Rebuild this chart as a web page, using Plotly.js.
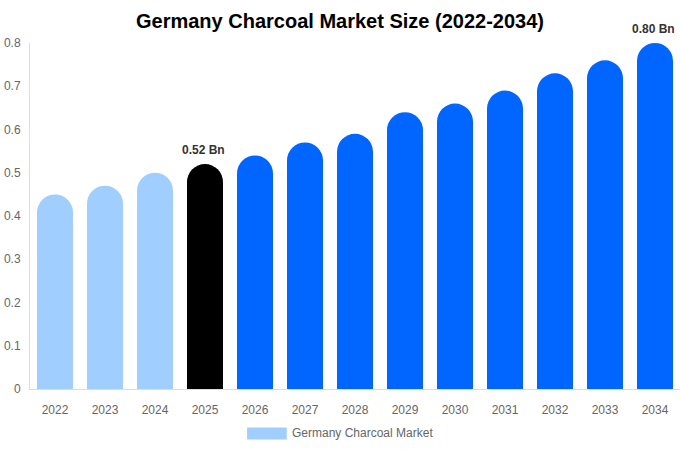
<!DOCTYPE html>
<html>
<head>
<meta charset="utf-8">
<script src="https://cdn.plot.ly/plotly-3.0.1.min.js"></script>
<style>
  html, body { margin: 0; padding: 0; background: #fff; }
  #chart { width: 680px; height: 450px; }
</style>
</head>
<body>
<div id="chart"></div>
<script>
var years = ['2022', '2023', '2024', '2025', '2026', '2027', '2028', '2029', '2030', '2031', '2032', '2033', '2034'];
var marketSize = [0.45, 0.47, 0.50, 0.52, 0.54, 0.57, 0.59, 0.64, 0.66, 0.69, 0.73, 0.76, 0.80];
var barColors = ['#a0cefe', '#a0cefe', '#a0cefe', '#000000', '#0066ff', '#0066ff', '#0066ff',
  '#0066ff', '#0066ff', '#0066ff', '#0066ff', '#0066ff', '#0066ff'];
var labelledYears = ['2025', '2034'];
var seriesName = 'Germany Charcoal Market';
var titleText = 'Germany Charcoal Market Size (2022-2034)';

var fontFamily = 'Liberation Sans, Arial, sans-serif';

var trace = {
  type: 'bar',
  x: years,
  y: marketSize,
  name: seriesName,
  marker: {
    color: barColors,
    cornerradius: '50%',
    line: { width: 0 }
  },
  hoverinfo: 'x+y',
  showlegend: false
};

// on a category axis the annotation x is the category's serial number
var annotations = labelledYears.map(function (yr) {
  var i = years.indexOf(yr);
  var v = marketSize[i];
  return {
    x: i,
    y: v,
    xref: 'x',
    yref: 'y',
    xshift: -2,
    text: '<b>' + v.toFixed(2) + ' Bn</b>',
    showarrow: false,
    yanchor: 'bottom',
    yshift: 5,
    font: { family: fontFamily, size: 12, color: '#333333' }
  };
});

// legend drawn by hand so the swatch is wide like the reference
annotations.push({
  xref: 'paper',
  yref: 'paper',
  x: 0.4,
  y: -0.128,
  xanchor: 'left',
  yanchor: 'middle',
  text: seriesName,
  showarrow: false,
  font: { family: fontFamily, size: 12, color: '#666666' }
});

var layout = {
  width: 680,
  height: 450,
  margin: { l: 30, r: 0, t: 43, b: 61, pad: 0 },
  paper_bgcolor: '#ffffff',
  plot_bgcolor: '#ffffff',
  font: { family: fontFamily, size: 12, color: '#666666' },
  title: {
    text: '<b>' + titleText + '</b>',
    x: 0.5,
    xanchor: 'center',
    y: 0.953,
    yanchor: 'middle',
    font: { family: fontFamily, size: 20, color: '#000000' }
  },
  bargap: 0.28,
  xaxis: {
    type: 'category',
    range: [-0.5, years.length - 0.5],
    showline: true,
    linecolor: '#dddddd',
    linewidth: 1,
    showgrid: false,
    ticks: '',
    ticklabelstandoff: 10,
    tickfont: { family: fontFamily, size: 12, color: '#666666' }
  },
  yaxis: {
    range: [0, 0.8],
    dtick: 0.1,
    tickformat: '.1~f',
    showline: true,
    linecolor: '#dddddd',
    linewidth: 1,
    showgrid: false,
    zeroline: false,
    ticks: '',
    ticklabelstandoff: 6,
    tickfont: { family: fontFamily, size: 12, color: '#666666' }
  },
  shapes: [{
    type: 'rect',
    xref: 'paper',
    yref: 'paper',
    x0: 0.334,
    x1: 0.395,
    y0: -0.146,
    y1: -0.111,
    fillcolor: '#a0cefe',
    line: { width: 0 }
  }],
  annotations: annotations,
  showlegend: false
};

Plotly.newPlot('chart', [trace], layout, { displayModeBar: false, staticPlot: true });
</script>
</body>
</html>
